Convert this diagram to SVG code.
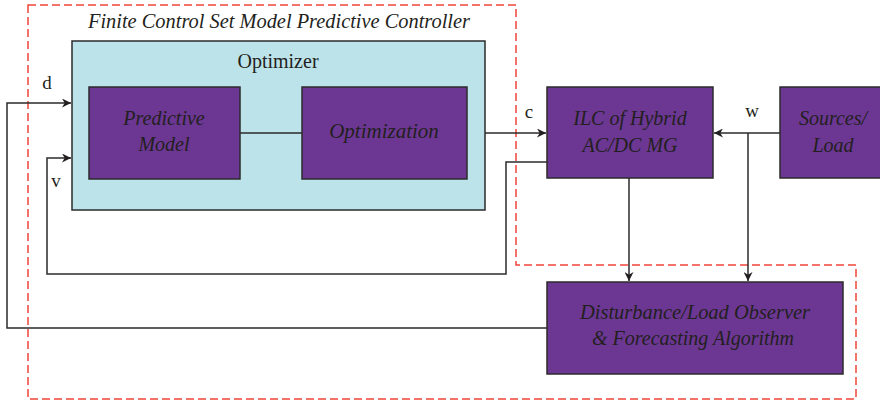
<svg xmlns="http://www.w3.org/2000/svg" width="880" height="404" viewBox="0 0 880 404">
<defs>
<style>
.blk{fill:#6b3793;stroke:#2b2b2b;stroke-width:1.5}
.opt{fill:#bce3ea;stroke:#2b2b2b;stroke-width:1.5}
.t{font-family:"Liberation Serif","DejaVu Serif",serif;fill:#231f20;text-anchor:middle}
.i{font-style:italic}
.ln{fill:none;stroke:#2b2b2b;stroke-width:1.5}
.dash{fill:none;stroke:#f0443a;stroke-width:1.5;stroke-dasharray:8,4}
</style>
<marker id="ah" viewBox="0 0 10 10" refX="10" refY="5" markerWidth="9" markerHeight="9" markerUnits="userSpaceOnUse" orient="auto">
<path d="M0,0 L10,5 L0,10 L3,5 Z" fill="#231f20"/>
</marker>
</defs>
<rect width="880" height="404" fill="#fff"/>
<path class="dash" d="M28,5 H516 V265 H856 V399 H28 Z"/>
<text class="t i" x="279" y="28" font-size="20" textLength="382" lengthAdjust="spacingAndGlyphs">Finite Control Set Model Predictive Controller</text>
<g id="optimizer">
<rect class="opt" x="72" y="41" width="413" height="169"/>
<text class="t" x="278" y="68" font-size="20">Optimizer</text>
</g>
<g id="predictive-model">
<rect class="blk" x="89" y="87" width="151" height="92"/>
<text class="t i" x="164" y="125" font-size="20">Predictive</text>
<text class="t i" x="164" y="151" font-size="20">Model</text>
</g>
<g id="optimization">
<rect class="blk" x="302" y="87" width="165" height="92"/>
<text class="t i" x="384" y="138" font-size="21">Optimization</text>
</g>
<g id="ilc">
<rect class="blk" x="547" y="87" width="166" height="91"/>
<text class="t i" x="630" y="125" font-size="20">ILC of Hybrid</text>
<text class="t i" x="630" y="152" font-size="20">AC/DC MG</text>
</g>
<g id="sources">
<rect class="blk" x="780" y="87" width="102" height="91"/>
<text class="t i" x="833" y="125" font-size="20">Sources/</text>
<text class="t i" x="833" y="152" font-size="20">Load</text>
</g>
<g id="observer">
<rect class="blk" x="547" y="282" width="296" height="92"/>
<text class="t i" x="695" y="319" font-size="20" textLength="230" lengthAdjust="spacingAndGlyphs">Disturbance/Load Observer</text>
<text class="t i" x="693" y="345" font-size="20" textLength="202" lengthAdjust="spacingAndGlyphs">&amp; Forecasting Algorithm</text>
</g>
<g id="connectors">
<line class="ln" x1="240" y1="133" x2="302" y2="133"/>
<line class="ln" x1="485" y1="133" x2="546" y2="133" marker-end="url(#ah)"/>
<line class="ln" x1="780" y1="133" x2="714" y2="133" marker-end="url(#ah)"/>
<line class="ln" x1="748" y1="133" x2="748" y2="281" marker-end="url(#ah)"/>
<line class="ln" x1="629" y1="178" x2="629" y2="281" marker-end="url(#ah)"/>
<path class="ln" d="M547,162 H506 V274 H47 V158 H71" marker-end="url(#ah)"/>
<path class="ln" d="M547,328 H7 V103 H71" marker-end="url(#ah)"/>
<text class="t" x="47" y="89" font-size="19">d</text>
<text class="t" x="56" y="187" font-size="19">v</text>
<text class="t" x="529" y="118" font-size="19">c</text>
<text class="t" x="752" y="117" font-size="19">w</text>
</g>
</svg>
